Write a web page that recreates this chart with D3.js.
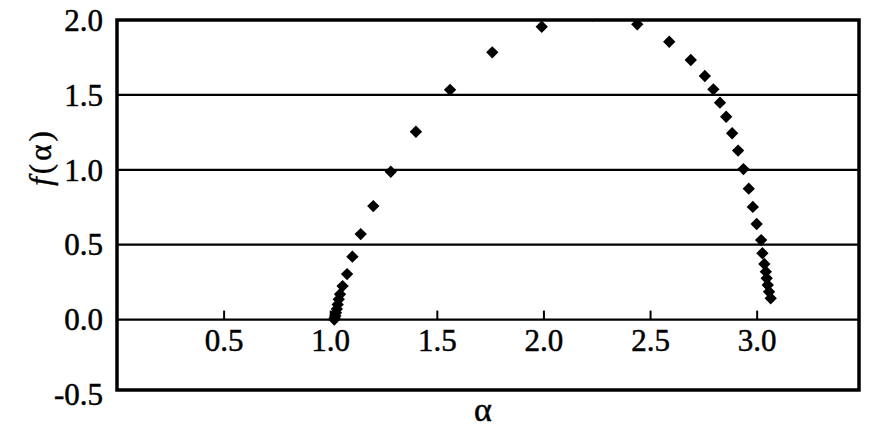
<!DOCTYPE html>
<html>
<head>
<meta charset="utf-8">
<script src="https://cdn.jsdelivr.net/npm/d3@7"></script>
</head>
<body style="margin:0; background:#fff">
<div class="canva"></div>
<script>
// f(alpha) spectrum
const alphaVals = [1.019, 1.021, 1.024, 1.027, 1.031, 1.035, 1.040, 1.046, 1.058, 1.079, 1.104, 1.143, 1.202, 1.284, 1.402, 1.562, 1.760, 1.992, 2.231,
  2.440, 2.590, 2.691, 2.757, 2.797, 2.828, 2.857, 2.885, 2.913, 2.938, 2.963, 2.982, 3.000, 3.021, 3.027, 3.036, 3.043, 3.047, 3.052, 3.058, 3.066];
const fVals = [0.000, 0.010, 0.025, 0.045, 0.070, 0.100, 0.135, 0.170, 0.224, 0.304, 0.420, 0.571, 0.758, 0.987, 1.254, 1.534, 1.784, 1.955, 2.030,
  1.971, 1.855, 1.733, 1.626, 1.537, 1.448, 1.354, 1.244, 1.128, 1.005, 0.874, 0.752, 0.638, 0.531, 0.443, 0.371, 0.320, 0.276, 0.231, 0.186, 0.142];

const xTicks = [0.5, 1.0, 1.5, 2.0, 2.5, 3.0];
const xTickLabels = ["0.5", "1.0", "1.5", "2.0", "2.5", "3.0"];
const yTicks = [2.0, 1.5, 1.0, 0.5, 0.0, -0.5];
const yTickLabels = ["2.0", "1.5", "1.0", "0.5", "0.0", "-0.5"];
const gridVals = [1.5, 1.0, 0.5, 0.0];

const width = 892, height = 435;
const serif = '"Liberation Serif"';

const svg = d3.select(".canva").append("svg")
  .attr("width", width)
  .attr("height", height);

// scales (frame spans roughly 0..3.48 and -0.47..2)
const x = d3.scaleLinear().domain([0, 3.48]).range([117, 859]);
const y = d3.scaleLinear().domain([-0.47, 2]).range([390, 20]);

svg.append("defs").append("clipPath").attr("id", "plotClip")
  .append("rect")
  .attr("x", x(0)).attr("y", y(2))
  .attr("width", x(3.48) - x(0)).attr("height", y(-0.47) - y(2));

// horizontal grid lines
svg.append("g").selectAll("line")
  .data(gridVals)
  .enter().append("line")
  .attr("x1", x(0)).attr("x2", x(3.48))
  .attr("y1", d => y(d)).attr("y2", d => y(d))
  .attr("stroke", "#000")
  .attr("stroke-width", 2.2);

// x axis sits on the zero line, ticks point up
const xAxis = svg.append("g")
  .attr("transform", `translate(0,${y(0)})`)
  .call(d3.axisBottom(x)
    .tickValues(xTicks)
    .tickFormat((d, i) => xTickLabels[i])
    .tickSize(-9)
    .tickPadding(9));
xAxis.attr("font-family", null).attr("font-size", null);
xAxis.select(".domain").remove();
xAxis.selectAll(".tick line").attr("stroke", "#000").attr("stroke-width", 2);
xAxis.selectAll(".tick text")
  .style("font-family", serif)
  .style("font-size", "31px")
  .attr("fill", "#000")
  .attr("stroke", "#000").attr("stroke-width", 0.5);

// y axis labels only
const yAxis = svg.append("g")
  .attr("transform", `translate(${x(0)},0)`)
  .call(d3.axisLeft(y)
    .tickValues(yTicks)
    .tickFormat((d, i) => yTickLabels[i])
    .tickSize(0)
    .tickPadding(14));
yAxis.attr("font-family", null).attr("font-size", null);
yAxis.select(".domain").remove();
yAxis.selectAll(".tick text")
  .style("font-family", serif)
  .style("font-size", "31px")
  .attr("fill", "#000")
  .attr("stroke", "#000").attr("stroke-width", 0.5)
  .attr("dy", "0.33em");

// points (diamonds)
const diamond = d3.symbol().type(d3.symbolSquare).size(76);
svg.append("g")
  .attr("clip-path", "url(#plotClip)")
  .selectAll("path")
  .data(alphaVals.map((a, i) => ({a: a, f: fVals[i]})))
  .enter().append("path")
  .attr("d", diamond)
  .attr("transform", d => `translate(${x(d.a)},${y(d.f)}) rotate(45)`)
  .attr("fill", "#000");

// frame
svg.append("rect")
  .attr("x", x(0)).attr("y", y(2))
  .attr("width", x(3.48) - x(0))
  .attr("height", y(-0.47) - y(2))
  .attr("fill", "none")
  .attr("stroke", "#000")
  .attr("stroke-width", 3.5);

// axis titles
svg.append("text")
  .attr("x", (x(0) + x(3.48)) / 2 - 5)
  .attr("y", 421)
  .attr("text-anchor", "middle")
  .style("font-family", serif)
  .style("font-size", "34px")
  .attr("stroke", "#000").attr("stroke-width", 0.5)
  .text("α");

svg.append("text")
  .attr("transform", `translate(51,157) rotate(-90)`)
  .attr("text-anchor", "middle")
  .style("font-family", serif)
  .style("font-size", "31px")
  .attr("stroke", "#000").attr("stroke-width", 0.4)
  .attr("letter-spacing", 3)
  .html('<tspan font-style="italic">f</tspan>(α)');
</script>
</body>
</html>
